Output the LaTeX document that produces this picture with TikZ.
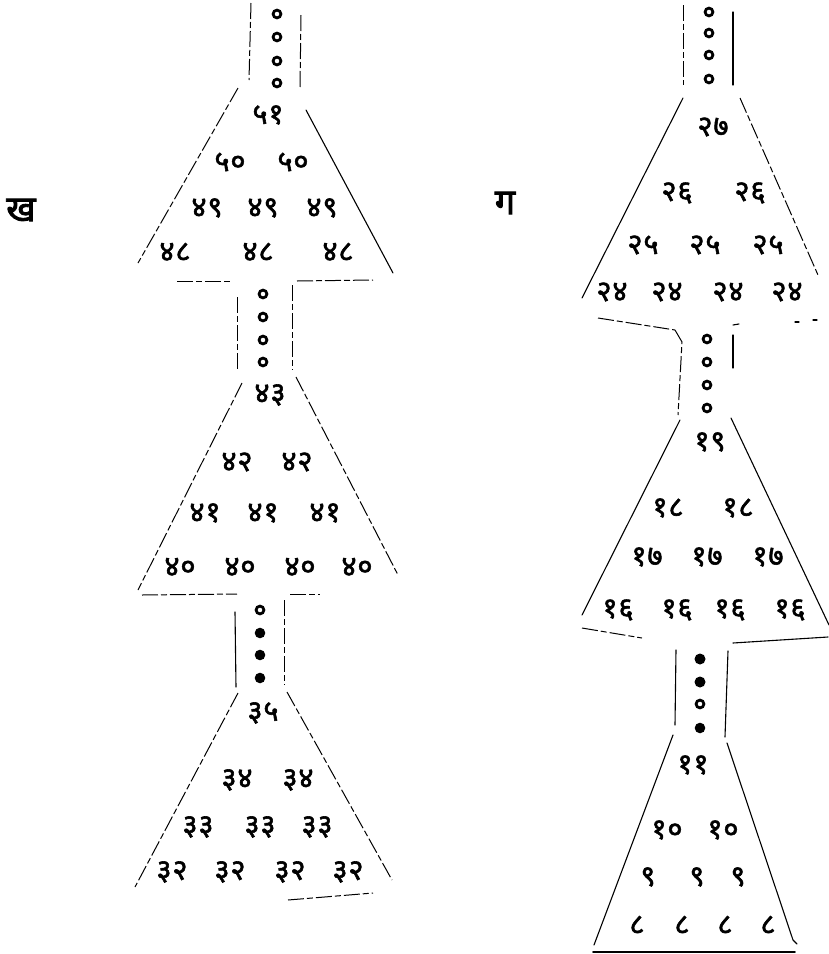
\documentclass[tikz,border=0pt]{standalone}
\usepackage{fontspec}
\newfontfamily\devb[Script=Devanagari,FakeBold=2.5]{Noto Sans}
\newfontfamily\devsp[Script=Devanagari,FakeBold=2,LetterSpace=3]{Noto Sans}
\begin{document}
\begin{tikzpicture}[x=1pt,y=-1pt,
  num/.style={font=\devsp\fontsize{29}{29}\selectfont, inner sep=0pt, anchor=center},
  lbl/.style={font=\devb\fontsize{36}{36}\selectfont, inner sep=0pt},
  edge/.style={line width=1.1pt, line cap=round},
  broken/.style={line width=1pt, dash pattern=on 16pt off 3pt on 6pt off 3pt},
  ring/.style={draw, line width=2.8pt},
  dot/.style={fill},
]
\useasboundingbox (0,0) rectangle (829,954);

% ---------- labels
\node[lbl] (kha) at (21,210) {ख};
\node[lbl] (ga) at (505,203) {ग};

% ================= LEFT COLUMN =================
% stem 1
\coordinate (Ls1a) at (251,3);   \coordinate (Ls1b) at (249,80);
\coordinate (Ls1c) at (301,15);  \coordinate (Ls1d) at (300,88);
\draw[broken] (Ls1a) -- (Ls1b);
\draw[broken] (Ls1c) -- (Ls1d);
\foreach \y in {14,37,61,83} \draw[ring] (277,\y) circle (3.9);
% trapezoid 1
\coordinate (L1tl) at (238,88);  \coordinate (L1bl) at (138,263);
\coordinate (L1tr) at (306,110); \coordinate (L1br) at (393,273);
\draw[broken] (L1tl) -- (L1bl);
\draw[edge] (L1tr) -- (L1br);
\coordinate (L1b1) at (177,281); \coordinate (L1b2) at (230,281);
\coordinate (L1b3) at (297,281); \coordinate (L1b4) at (373,280);
\draw[broken] (L1b1) -- (L1b2);
\draw[broken] (L1b3) -- (L1b4);
\node[num] (n51) at (268,115) {५१};
\node[num] (n50a) at (230,162) {५०};
\node[num] (n50b) at (293,162) {५०};
\node[num] (n49a) at (207,208) {४९};
\node[num] (n49b) at (263,208) {४९};
\node[num] (n49c) at (322,208) {४९};
\node[num] (n48a) at (175,252) {४८};
\node[num] (n48b) at (258,252) {४८};
\node[num] (n48c) at (338,252) {४८};

% stem 2
\coordinate (Ls2a) at (237,297); \coordinate (Ls2b) at (237,370);
\coordinate (Ls2c) at (292,285); \coordinate (Ls2d) at (292,370);
\draw[broken] (Ls2a) -- (Ls2b);
\draw[broken] (Ls2c) -- (Ls2d);
\foreach \y in {294,317,340,362} \draw[ring] (263,\y) circle (3.9);
% trapezoid 2
\coordinate (L2tl) at (242,383); \coordinate (L2bl) at (138,590);
\coordinate (L2tr) at (296,377); \coordinate (L2br) at (398,575);
\draw[broken] (L2tl) -- (L2bl);
\draw[broken] (L2tr) -- (L2br);
\coordinate (L2b1) at (142,595); \coordinate (L2b2) at (237,594);
\coordinate (L2b3) at (290,594); \coordinate (L2b4) at (320,594);
\draw[broken] (L2b1) -- (L2b2);
\draw[broken] (L2b3) -- (L2b4);
\node[num] (n43) at (270,395) {४३};
\node[num] (n42a) at (237,462) {४२};
\node[num] (n42b) at (297,462) {४२};
\node[num] (n41a) at (205,513) {४१};
\node[num] (n41b) at (263,513) {४१};
\node[num] (n41c) at (325,513) {४१};
\node[num] (n40a) at (180,567) {४०};
\node[num] (n40b) at (240,567) {४०};
\node[num] (n40c) at (300,567) {४०};
\node[num] (n40d) at (357,567) {४०};

% stem 3
\coordinate (Ls3a) at (235,612); \coordinate (Ls3b) at (236,687);
\coordinate (Ls3c) at (284,600); \coordinate (Ls3d) at (284,685);
\draw[edge] (Ls3a) -- (Ls3b);
\draw[broken] (Ls3c) -- (Ls3d);
\draw[ring] (260,610) circle (3.9);
\foreach \y in {633,655,678} \fill[dot] (260,\y) circle (5.3);
% trapezoid 3
\coordinate (L3tl) at (238,693); \coordinate (L3bl) at (135,887);
\coordinate (L3tr) at (287,692); \coordinate (L3br) at (392,880);
\draw[broken] (L3tl) -- (L3bl);
\draw[broken] (L3tr) -- (L3br);
\coordinate (L3b1) at (288,900); \coordinate (L3b2) at (373,893);
\draw[broken] (L3b1) -- (L3b2);
\node[num] (n35) at (263,713) {३५};
\node[num] (n34a) at (237,780) {३४};
\node[num] (n34b) at (298,780) {३४};
\node[num] (n33a) at (198,827) {३३};
\node[num] (n33b) at (260,827) {३३};
\node[num] (n33c) at (317,827) {३३};
\node[num] (n32a) at (172,872) {३२};
\node[num] (n32b) at (230,872) {३२};
\node[num] (n32c) at (290,872) {३२};
\node[num] (n32d) at (348,872) {३२};

% ================= RIGHT COLUMN =================
% stem 1
\coordinate (Rs1a) at (683,5);  \coordinate (Rs1b) at (683,85);
\coordinate (Rs1c) at (733,12); \coordinate (Rs1d) at (733,85);
\draw[broken] (Rs1a) -- (Rs1b);
\draw[edge] (Rs1c) -- (Rs1d);
\foreach \y in {12,33,55,79} \draw[ring] (709,\y) circle (3.9);
% trapezoid 1
\coordinate (R1tl) at (683,98);  \coordinate (R1bl) at (582,298);
\coordinate (R1tr) at (740,98);  \coordinate (R1br) at (818,275);
\draw[edge] (R1tl) -- (R1bl);
\draw[broken] (R1tr) -- (R1br);
\coordinate (R1b1) at (598,318); \coordinate (R1b2) at (675,330);
\draw[broken] (R1b1) -- (R1b2);
\coordinate (R1b3) at (733,325); \coordinate (R1b4) at (739,324);
\draw[edge] (R1b3) -- (R1b4);
\coordinate (R1b5) at (795,322); \coordinate (R1b6) at (799,322);
\coordinate (R1b7) at (813,320); \coordinate (R1b8) at (817,320);
\draw[edge] (R1b5) -- (R1b6);
\draw[edge] (R1b7) -- (R1b8);
\node[num] (n27) at (713,127) {२७};
\node[num] (n26a) at (677,193) {२६};
\node[num] (n26b) at (750,193) {२६};
\node[num] (n25a) at (643,245) {२५};
\node[num] (n25b) at (705,245) {२५};
\node[num] (n25c) at (768,245) {२५};
\node[num] (n24a) at (612,292) {२४};
\node[num] (n24b) at (667,292) {२४};
\node[num] (n24c) at (728,292) {२४};
\node[num] (n24d) at (787,292) {२४};

% stem 2
\coordinate (Rs2a) at (682,342); \coordinate (Rs2b) at (678,415);
\coordinate (Rs2c) at (733,335); \coordinate (Rs2d) at (733,368);
\draw[broken] (R1b2) -- (Rs2a) -- (Rs2b);
\draw[edge] (Rs2c) -- (Rs2d);
\foreach \y in {339,362,385,408} \draw[ring] (707,\y) circle (3.9);
% trapezoid 2
\coordinate (R2tl) at (680,420); \coordinate (R2bl) at (582,615);
\coordinate (R2tr) at (731,418); \coordinate (R2br) at (829,625);
\draw[edge] (R2tl) -- (R2bl);
\draw[edge] (R2tr) -- (R2br);
\coordinate (R2b1) at (582,628); \coordinate (R2b2) at (642,638);
\coordinate (R2b3) at (733,643); \coordinate (R2b4) at (828,637);
\draw[broken] (R2b1) -- (R2b2);
\draw[edge] (R2b3) -- (R2b4);
\node[num] (n19) at (710,442) {१९};
\node[num] (n18a) at (668,508) {१८};
\node[num] (n18b) at (738,508) {१८};
\node[num] (n17a) at (647,557) {१७};
\node[num] (n17b) at (707,557) {१७};
\node[num] (n17c) at (768,557) {१७};
\node[num] (n16a) at (618,610) {१६};
\node[num] (n16b) at (677,610) {१६};
\node[num] (n16c) at (730,610) {१६};
\node[num] (n16d) at (790,610) {१६};

% stem 3
\coordinate (Rs3a) at (676,650); \coordinate (Rs3b) at (675,725);
\coordinate (Rs3c) at (728,651); \coordinate (Rs3d) at (725,737);
\draw[edge] (Rs3a) -- (Rs3b);
\draw[edge] (Rs3c) -- (Rs3d);
\fill[dot] (700,659) circle (5.5);
\fill[dot] (700,682) circle (5.5);
\draw[ring] (700,704) circle (3.9);
\fill[dot] (700,728) circle (5.3);
% trapezoid 3
\coordinate (R3tl) at (673,735); \coordinate (R3bl) at (594,945);
\coordinate (R3tr) at (727,743); \coordinate (R3br) at (793,940);
\coordinate (R3bh) at (797,944);
\draw[edge] (R3tl) -- (R3bl);
\draw[edge] (R3tr) -- (R3br) -- (R3bh);
\coordinate (R3b1) at (593,952); \coordinate (R3b2) at (795,952);
\draw[edge, line width=1.6pt] (R3b1) -- (R3b2);
\node[num] (n11) at (693,765) {११};
\node[num] (n10a) at (667,830) {१०};
\node[num] (n10b) at (723,830) {१०};
\node[num] (n9a) at (648,877) {९};
\node[num] (n9b) at (697,877) {९};
\node[num] (n9c) at (738,877) {९};
\node[num] (n8a) at (637,925) {८};
\node[num] (n8b) at (682,925) {८};
\node[num] (n8c) at (725,925) {८};
\node[num] (n8d) at (768,925) {८};
\end{tikzpicture}
\end{document}
